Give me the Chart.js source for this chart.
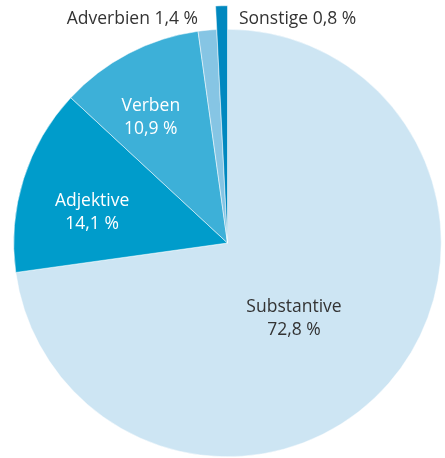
<!DOCTYPE html>
<html>
<head>
<meta charset="utf-8">
<script src="https://cdn.jsdelivr.net/npm/chart.js@4"></script>
<style>
html,body{margin:0;padding:0;background:#fff;}
#wrap{width:445px;height:458px;}
</style>
</head>
<body>
<div id="wrap"><canvas id="c" width="445" height="458"></canvas></div>
<script>
const categories = ['Substantive', 'Adjektive', 'Verben', 'Adverbien', 'Sonstige'];
const values = [72.8, 14.1, 10.9, 1.4, 0.8];
const valueLabels = ['72,8 %', '14,1 %', '10,9 %', '1,4 %', '0,8 %'];
const colors = ['#cde5f3', '#009ccb', '#3db0d8', '#86c5e4', '#0088bf'];
const textColors = ['#333333', '#ffffff', '#ffffff', '#333333', '#333333'];

const FONT = '17.5px "Open Sans", "Noto Sans", sans-serif';

const labelPlugin = {
  id: 'sliceLabels',
  afterUpdate(chart) {
    const meta = chart.getDatasetMeta(0);
    const arc = meta.data[4];
    if (arc) arc.outerRadius = arc.outerRadius * 1.11;
  },
  afterDatasetsDraw(chart) {
    const ctx = chart.ctx;
    const meta = chart.getDatasetMeta(0);
    ctx.save();
    ctx.font = FONT;
    ctx.textBaseline = 'middle';
    const inside = {0: {r: 0.47, da: 7.5}, 1: {r: 0.65, da: -4.5}, 2: {r: 0.69, da: -3.8}};
    const R = meta.data[0].outerRadius;
    meta.data.forEach((a, i) => {
      const cx = a.x, cy = a.y;
      ctx.fillStyle = textColors[i];
      if (inside[i]) {
        const mid = (a.startAngle + a.endAngle) / 2 + inside[i].da * Math.PI / 180;
        const x = cx + Math.cos(mid) * R * inside[i].r;
        const y = cy + Math.sin(mid) * R * inside[i].r;
        ctx.textAlign = 'center';
        ctx.fillText(categories[i], x, y - 11);
        ctx.fillText(valueLabels[i], x, y + 12);
      } else {
        const y = cy - R * 1.048;
        if (i === 3) {
          ctx.textAlign = 'right';
          ctx.fillText(categories[i] + ' ' + valueLabels[i], cx - 29.5, y);
        } else {
          ctx.textAlign = 'left';
          ctx.fillText(categories[i] + ' ' + valueLabels[i], cx + 11.5, y);
        }
      }
    });
    ctx.restore();
  }
};

new Chart(document.getElementById('c'), {
  type: 'pie',
  data: {
    labels: categories,
    datasets: [{
      data: values,
      backgroundColor: colors,
      borderColor: '#ffffff',
      borderWidth: 0.5,
      clip: false
    }]
  },
  options: {
    responsive: false,
    animation: false,
    layout: {padding: {left: 12, right: 2, top: 29, bottom: 1}},
    plugins: {legend: {display: false}, tooltip: {enabled: false}}
  },
  plugins: [labelPlugin]
});
</script>
</body>
</html>
